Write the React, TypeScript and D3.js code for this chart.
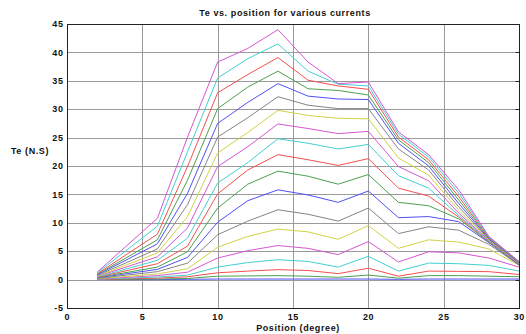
import * as d3 from 'd3';
import React, { useEffect, useRef } from 'react';

const positions = [2, 6, 8, 10, 12, 14, 16, 18, 20, 22, 24, 26, 28, 30];

// one row per current, lowest first
const torque0 = [0, 0, 0.05, 0.1, 0.1, 0.1, 0.1, 0.1, 0.1, 0.05, 0.1, 0.1, 0.1, 0.1];
const torque1 = [0.02, 0.1, 0.2, 0.6, 0.65, 0.7, 0.6, 0.4, 0.8, 0.25, 0.7, 0.7, 0.6, 0.5];
const torque2 = [0.05, 0.25, 0.5, 1.2, 1.5, 1.75, 1.6, 1.05, 2.0, 0.6, 1.5, 1.45, 1.4, 0.9];
const torque3 = [0.08, 0.45, 0.8, 2.2, 3.0, 3.5, 3.2, 2.2, 4.1, 1.5, 2.9, 2.8, 2.5, 1.5];
const torque4 = [0.1, 0.7, 1.3, 3.8, 5.1, 6.0, 5.5, 4.4, 6.7, 3.1, 4.9, 4.7, 3.8, 2.2];
const torque5 = [0.15, 1.0, 1.9, 5.7, 7.6, 8.9, 8.4, 7.1, 9.5, 5.5, 7.0, 6.6, 5.4, 2.5];
const torque6 = [0.2, 1.4, 2.9, 7.9, 10.3, 12.3, 11.5, 10.3, 12.6, 8.1, 9.3, 8.7, 6.2, 2.6];
const torque7 = [0.3, 1.8, 3.9, 10.1, 13.9, 15.8, 14.9, 13.6, 15.6, 10.9, 11.1, 10.2, 6.5, 2.65];
const torque8 = [0.35, 2.2, 4.9, 12.6, 16.8, 19.1, 18.2, 16.8, 18.5, 13.6, 13.0, 10.7, 6.6, 2.7];
const torque9 = [0.4, 2.8, 5.9, 15.1, 19.3, 22.0, 21.1, 20.1, 21.3, 16.1, 14.7, 11.0, 6.7, 2.75];
const torque10 = [0.45, 3.4, 7.3, 17.0, 20.6, 24.8, 24.0, 23.0, 23.8, 18.3, 16.1, 11.3, 6.8, 2.8];
const torque11 = [0.55, 4.0, 9.1, 19.9, 23.4, 27.4, 26.6, 25.7, 26.1, 19.9, 17.4, 11.7, 6.9, 2.85];
const torque12 = [0.6, 4.7, 11.1, 22.3, 25.9, 29.8, 28.9, 28.4, 28.3, 21.4, 18.4, 12.2, 7.0, 2.9];
const torque13 = [0.7, 5.4, 13.2, 25.1, 28.5, 32.2, 30.7, 30.1, 30.1, 23.0, 19.3, 12.8, 7.1, 2.95];
const torque14 = [0.8, 6.3, 15.2, 27.5, 31.2, 34.5, 32.3, 31.8, 31.7, 24.0, 20.0, 13.4, 7.2, 3.0];
const torque15 = [0.9, 7.0, 17.5, 30.1, 33.9, 36.7, 33.6, 33.3, 32.5, 24.6, 20.6, 14.0, 7.3, 3.05];
const torque16 = [1.0, 8.0, 19.9, 32.9, 36.1, 39.1, 35.1, 34.1, 33.5, 25.1, 21.1, 14.6, 7.4, 3.1];
const torque17 = [1.15, 9.4, 22.5, 35.5, 38.9, 41.5, 36.7, 34.4, 34.1, 25.6, 21.6, 15.2, 7.5, 3.15];
const torque18 = [1.3, 10.8, 25.1, 38.3, 40.7, 44.0, 38.3, 34.5, 34.8, 26.0, 22.0, 15.8, 7.6, 3.2];

const series = [
	torque0, torque1, torque2, torque3, torque4, torque5, torque6, torque7, torque8, torque9,
	torque10, torque11, torque12, torque13, torque14, torque15, torque16, torque17, torque18,
];

const xTicks = [0, 5, 10, 15, 20, 25, 30];
const yTicks = [-5, 0, 5, 10, 15, 20, 25, 30, 35, 40, 45];

// matlab's old b g r c m y k cycle
const lineColors = ['#5050f5', '#4ea04e', '#f25050', '#45cfcf', '#d456d4', '#d2d246', '#858585'];

const FONT = '"Liberation Sans", Arial, sans-serif';
const FONT_SIZE = '9px';
const SPACING = '0.6px';

export default function App(): React.JSX.Element {
	const chartRef = useRef<SVGSVGElement | null>(null);

	useEffect(() => {
		if (chartRef.current === null) return;
		d3.select(chartRef.current).selectAll('*').remove();

		const width = 526;
		const height = 334;
		const margin = { top: 24, right: 7, bottom: 26, left: 67 };

		const svg = d3.select(chartRef.current)
			.attr('width', width)
			.attr('height', height);

		svg.append('rect')
			.attr('width', width)
			.attr('height', height)
			.attr('fill', '#ffffff');

		const xScale = d3.scaleLinear().domain([0, 30]).range([margin.left, width - margin.right]);
		const yScale = d3.scaleLinear().domain([-5, 45]).range([height - margin.bottom, margin.top]);

		// grid
		const grid = svg.append('g');
		grid.selectAll('line.vgrid')
			.data(xTicks.slice(1, -1))
			.enter()
			.append('line')
			.attr('class', 'vgrid')
			.attr('x1', (d) => Math.round(xScale(d)) + 0.5)
			.attr('x2', (d) => Math.round(xScale(d)) + 0.5)
			.attr('y1', yScale(-5))
			.attr('y2', yScale(45))
			.attr('stroke', '#9a9a9a')
			.attr('stroke-width', 1);
		grid.selectAll('line.hgrid')
			.data(yTicks.slice(1, -1))
			.enter()
			.append('line')
			.attr('class', 'hgrid')
			.attr('x1', xScale(0))
			.attr('x2', xScale(30))
			.attr('y1', (d) => Math.round(yScale(d)) + 0.5)
			.attr('y2', (d) => Math.round(yScale(d)) + 0.5)
			.attr('stroke', '#9a9a9a')
			.attr('stroke-width', 1);

		// curves
		const line = d3.line<number>()
			.x((_, i) => xScale(positions[i]))
			.y((d) => yScale(d));

		svg.append('g')
			.selectAll('path')
			.data(series)
			.enter()
			.append('path')
			.attr('d', (d) => line(d))
			.attr('fill', 'none')
			.attr('stroke', (_, i) => lineColors[i % lineColors.length])
			.attr('stroke-width', 1);

		// box
		const x0 = Math.round(xScale(0)) + 0.5;
		const x1 = Math.round(xScale(30)) + 0.5;
		const y0 = Math.round(yScale(-5)) + 0.5;
		const y1 = Math.round(yScale(45)) + 0.5;
		svg.append('rect')
			.attr('x', x0)
			.attr('y', y1)
			.attr('width', x1 - x0)
			.attr('height', y0 - y1)
			.attr('fill', 'none')
			.attr('stroke', '#222222')
			.attr('stroke-width', 1);

		// inner ticks on the right edge
		svg.append('g')
			.selectAll('line')
			.data(yTicks)
			.enter()
			.append('line')
			.attr('x1', x1 - 4)
			.attr('x2', x1)
			.attr('y1', (d) => Math.round(yScale(d)) + 0.5)
			.attr('y2', (d) => Math.round(yScale(d)) + 0.5)
			.attr('stroke', '#222222');

		const label = (sel: d3.Selection<SVGTextElement, unknown, null, undefined>) => sel
			.attr('font-family', FONT)
			.attr('font-weight', 'bold')
			.attr('font-size', FONT_SIZE)
			.attr('letter-spacing', SPACING)
			.attr('fill', '#111111');

		svg.append('g')
			.selectAll('text')
			.data(yTicks)
			.enter()
			.append('text')
			.attr('x', x0 - 4)
			.attr('y', (d) => yScale(d) + 3.2)
			.attr('text-anchor', 'end')
			.attr('font-family', FONT)
			.attr('font-weight', 'bold')
			.attr('font-size', FONT_SIZE)
			.attr('letter-spacing', SPACING)
			.attr('fill', '#111111')
			.text((d) => d);

		svg.append('g')
			.selectAll('text')
			.data(xTicks)
			.enter()
			.append('text')
			.attr('x', (d) => xScale(d) + 0.3)
			.attr('y', y0 + 11.5)
			.attr('text-anchor', 'middle')
			.attr('font-family', FONT)
			.attr('font-weight', 'bold')
			.attr('font-size', FONT_SIZE)
			.attr('letter-spacing', SPACING)
			.attr('fill', '#111111')
			.text((d) => d);

		svg.append('text')
			.attr('x', 285)
			.attr('y', 15.5)
			.attr('text-anchor', 'middle')
			.call(label)
			.text('Te vs. position for various currents');

		svg.append('text')
			.attr('x', 298)
			.attr('y', 331)
			.attr('text-anchor', 'middle')
			.call(label)
			.text('Position (degree)');

		svg.append('text')
			.attr('x', 30)
			.attr('y', 153.5)
			.attr('text-anchor', 'middle')
			.call(label)
			.text('Te (N.S)');
	}, []);

	return (
		<svg ref={chartRef} style={{ position: 'absolute', left: 0, top: 0, display: 'block' }} />
	);
}
